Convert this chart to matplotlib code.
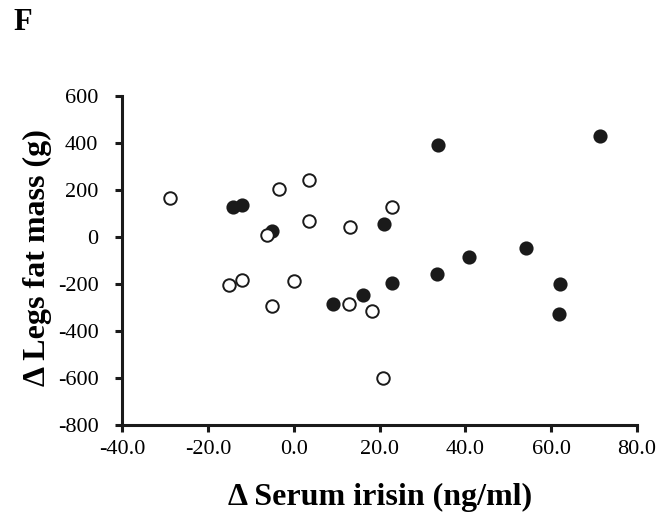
import matplotlib
matplotlib.use("Agg")
import matplotlib.pyplot as plt

filled_x = [-14.2, -12.1, -5.0, 21.1, 33.6, 71.4, 40.9, 54.1, 33.3, 9.1, 16.1, 22.8, 62.1, 61.8]
filled_y = [129, 137, 26, 54, 393, 431, -83, -48, -158, -286, -245, -194, -202, -329]
open_x = [-28.8, -3.5, 3.6, 3.6, -6.3, 13.2, 22.9, -15.1, -12.0, -5.0, 0.1, 13.0, 18.3, 20.8]
open_y = [167, 204, 244, 68, 8, 44, 129, -205, -181, -293, -186, -286, -313, -598]

xticks = [-40, -20, 0, 20, 40, 60, 80]
yticks = [-800, -600, -400, -200, 0, 200, 400, 600]

plt.rcParams['font.family'] = ['Liberation Serif', 'DejaVu Serif']

fig = plt.figure(figsize=(6.66, 5.25), dpi=100)
ax = fig.add_axes([122/666, 100/525, 515/666, 329/525])

ax.plot(filled_x, filled_y, 'o', ms=9, mfc='#1a1a1a', mec='#1a1a1a', mew=1.2, ls='none', zorder=3, clip_on=False)
ax.plot(open_x, open_y, 'o', ms=9, mfc='white', mec='#1a1a1a', mew=1.4, ls='none', zorder=4, clip_on=False)

ax.set_xlim(-40, 80)
ax.set_ylim(-800, 600)
ax.set_xticks(xticks)
ax.set_xticklabels([f"{v:.1f}" for v in xticks])
ax.set_yticks(yticks)
ax.set_yticklabels([str(v) for v in yticks])

for s in ['top', 'right']:
    ax.spines[s].set_visible(False)
for s in ['left', 'bottom']:
    ax.spines[s].set_linewidth(2.2)
    ax.spines[s].set_color('#1a1a1a')
ax.tick_params(axis='both', direction='out', length=5, width=2.2, color='#1a1a1a', labelsize=16)
ax.tick_params(axis='x', pad=6)
ax.tick_params(axis='y', pad=12)

fig.text(380/666, 1 - 497/525, 'Δ Serum irisin (ng/ml)', fontsize=23, fontweight='bold', ha='center', va='center')
fig.text(37/666, 1 - 258/525, 'Δ Legs fat mass (g)', fontsize=23, fontweight='bold', ha='center', va='center', rotation=90)

fig.text(23/666, 1 - 22/525, 'F', fontsize=22, fontweight='bold', va='center', ha='center')

fig.savefig('out.png', dpi=100)
